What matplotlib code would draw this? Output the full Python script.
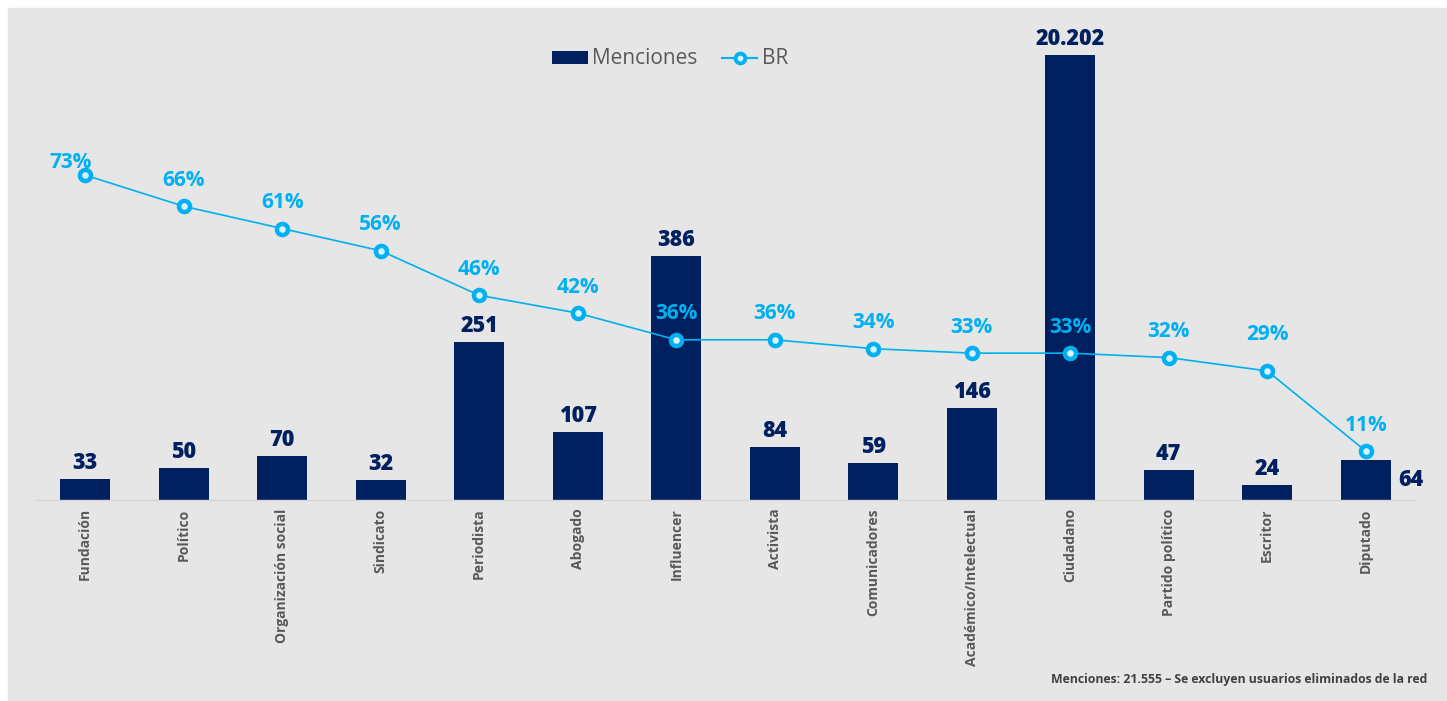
"""Menciones y BR por tipo de usuario."""

import matplotlib

matplotlib.use("Agg")
import matplotlib.pyplot as plt
from matplotlib.lines import Line2D
from matplotlib.patches import Patch, Rectangle

categories = [
    "Fundación", "Político", "Organización social", "Sindicato", "Periodista",
    "Abogado", "Influencer", "Activista", "Comunicadores", "Académico/Intelectual",
    "Ciudadano", "Partido político", "Escritor", "Diputado",
]
menciones = [33, 50, 70, 32, 251, 107, 386, 84, 59, 146, 20202, 47, 24, 64]
br = [0.73, 0.66, 0.61, 0.56, 0.46, 0.42, 0.36, 0.36, 0.34, 0.33, 0.33, 0.32, 0.29, 0.11]
footnote = "Menciones: 21.555 – Se excluyen usuarios eliminados de la red"

NAVY = "#002060"
CYAN = "#00B0F0"
GRAY_TXT = "#595959"
BG = "#e6e6e6"

plt.rcParams["font.family"] = ["Open Sans", "DejaVu Sans"]

W, H = 1447, 701
fig = plt.figure(figsize=(W / 100, H / 100), dpi=100, facecolor="white")
fig.patches.append(Rectangle((8 / W, 0), 1 - 8 / W, 1 - 8 / H,
                             transform=fig.transFigure, color=BG, zorder=-10))

ax = fig.add_axes([36 / W, 1 - 500 / H, (1415 - 36) / W, (500 - 55) / H])
ax.set_facecolor("none")
x = list(range(len(categories)))
ymax = 705
ax.bar(x, menciones, width=0.51, color=NAVY, zorder=2)
ax.set_xlim(-0.5, len(categories) - 0.5)
ax.set_ylim(0, ymax)
ax.set_yticks([])
for s in ["top", "left", "right"]:
    ax.spines[s].set_visible(False)
ax.spines["bottom"].set_color("#d4d4d4")
ax.spines["bottom"].set_linewidth(1.0)
ax.set_xticks(x)
ax.set_xticklabels(categories, rotation=90, fontsize=10, fontweight="bold",
                   color=GRAY_TXT)
ax.tick_params(axis="x", length=0, pad=6)

for i, v in enumerate(menciones):
    txt = f"{v:,}".replace(",", ".")
    if i == len(menciones) - 1:
        ax.annotate(txt, (i + 0.255, v / 2), xytext=(7, 0), textcoords="offset pixels",
                    ha="left", va="center", fontsize=15.5, fontweight=800, color=NAVY)
    else:
        ax.annotate(txt, (i, min(v, ymax)), xytext=(0, 4), textcoords="offset pixels",
                    ha="center", va="bottom", fontsize=15.5, fontweight=800,
                    color=NAVY, annotation_clip=False)

ax2 = ax.twinx()
ax2.set_ylim(0, 1.0)
ax2.axis("off")
ax2.plot(x, br, color=CYAN, linewidth=1.2, marker="o", ms=8, mfc="#d8f3fd",
         mec=CYAN, mew=3.2, zorder=3)
for i, v in enumerate(br):
    off = (-15, 13) if i == 0 else (0, 26)
    if i == 12:
        off = (0, 36)
    ax2.annotate(f"{v * 100:.0f}%", (i, v), xytext=off, textcoords="offset pixels",
                 ha="center", va="center", fontsize=15, fontweight="bold", color=CYAN)

handles = [
    Patch(facecolor=NAVY, label="Menciones"),
    Line2D([0], [0], color=CYAN, linewidth=1.5, marker="o", ms=7, mfc="#d8f3fd",
           mec=CYAN, mew=2.8, label="BR"),
]
fig.legend(handles=handles, loc="center", bbox_to_anchor=(670 / W, 1 - 59 / H),
           ncol=2, frameon=False, fontsize=15, labelcolor=GRAY_TXT,
           handlelength=1.7, handleheight=0.6, handletextpad=0.2, columnspacing=1.2)

fig.text(1427 / W, 1 - 679 / H, footnote, ha="right", va="center", fontsize=8.8,
         fontweight="bold", color="#404040")

fig.savefig("out.png", dpi=100, facecolor="white")
